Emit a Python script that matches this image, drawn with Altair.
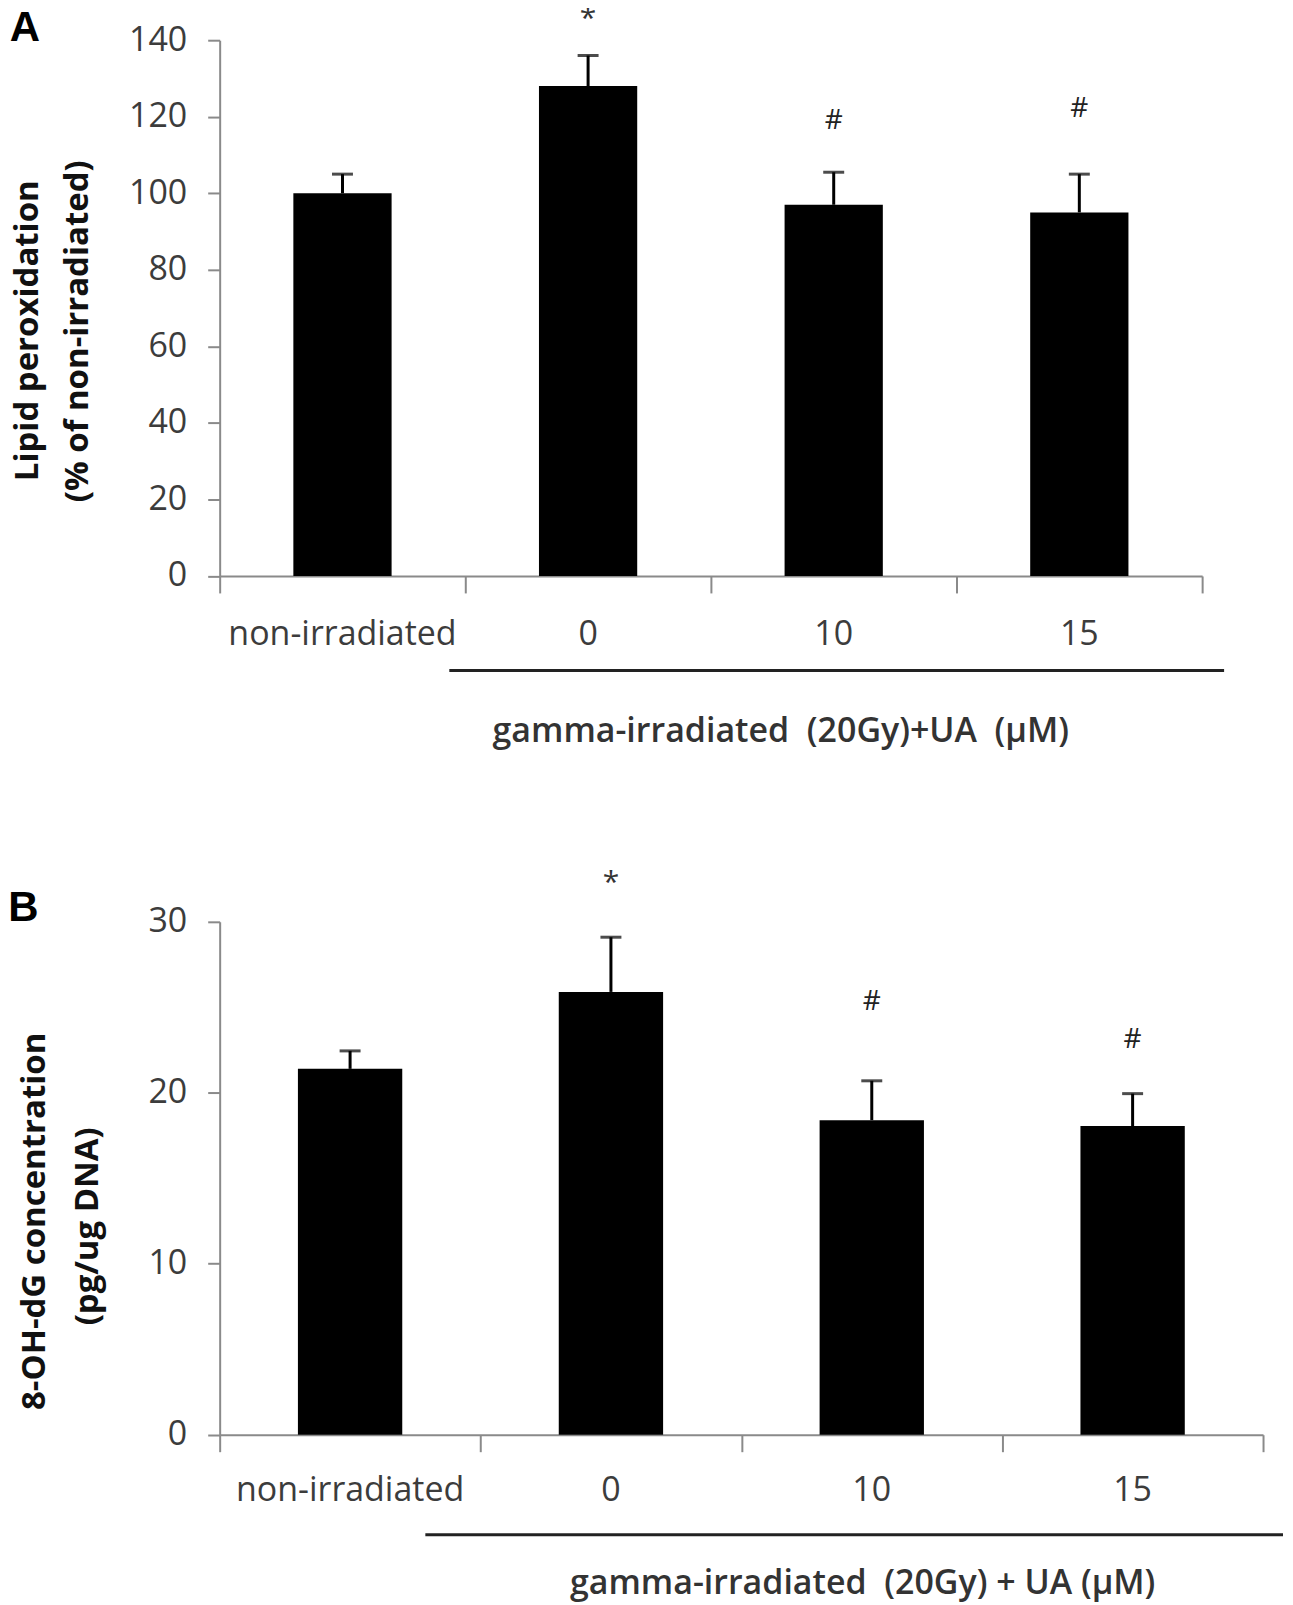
import altair as alt
import pandas as pd

# ---------------- data ----------------
categories = ["non-irradiated", "0", "10", "15"]

lipid_values = [100, 128, 97, 95]
lipid_errors = [5, 8, 8.5, 10]
lipid_sig = ["", "*", "#", "#"]
lipid_sig_y = [None, 147, 119, 122]

ohdg_values = [21.4, 25.9, 18.4, 18.05]
ohdg_errors = [1.05, 3.2, 2.3, 1.9]
ohdg_sig = ["", "*", "#", "#"]
ohdg_sig_y = [None, 32.6, 25.3, 23.1]

# ---------------- styling ----------------
FONT = "Open Sans"
AXIS_GRAY = "#8a8a8a"
TEXT_GRAY = "#3c3c3c"
NB = "\u00a0"


def panel(values, errors, sig, sig_y, ymax, ystep, W, H, letter, letter_xy,
          ytitles, label_y, gline, gtitle, gtitle_xy):
    n = len(categories)
    df = pd.DataFrame({
        "cat": categories,
        "pos": [i + 0.5 for i in range(n)],
        "left": [i + 0.3 for i in range(n)],
        "right": [i + 0.7 for i in range(n)],
        "val": values,
        "hi": [v + e for v, e in zip(values, errors)],
        "sig": sig,
        "sig_y": sig_y,
    })
    xs = alt.Scale(domain=[0, n], nice=False, zero=False)
    ys = alt.Scale(domain=[0, ymax], nice=False)
    xaxis = alt.Axis(values=list(range(n + 1)), labels=False, tickSize=17,
                     tickWidth=2, tickColor=AXIS_GRAY, domainColor=AXIS_GRAY,
                     domainWidth=2, grid=False, title=None)
    yaxis = alt.Axis(values=list(range(0, ymax + 1, ystep)), tickSize=12,
                     tickWidth=2, tickColor=AXIS_GRAY, domainColor=AXIS_GRAY,
                     domainWidth=2, labelFont=FONT, labelFontSize=34,
                     labelColor=TEXT_GRAY, labelPadding=21, grid=False,
                     title=None)

    def X(f):
        return alt.X(f, scale=xs, axis=xaxis)

    def Y(f):
        return alt.Y(f, scale=ys, axis=yaxis)

    base = alt.Chart(df)
    bars = base.mark_rect(color="black").encode(
        x=X("left:Q"), x2="right:Q", y=Y("val:Q"), y2=alt.datum(0))
    err = base.mark_rule(color="black", strokeWidth=3).encode(
        x=X("pos:Q"), y=Y("val:Q"), y2="hi:Q")
    caps = base.mark_tick(color="black", orient="horizontal", size=21,
                          thickness=3).encode(x=X("pos:Q"), y=Y("hi:Q"))
    stars = base.transform_filter("datum.sig == '*'").mark_text(
        font=FONT, fontSize=30, color="#333333", baseline="middle",
        dy=6).encode(x=X("pos:Q"), y=Y("sig_y:Q"), text="sig:N")
    hashes = base.transform_filter("datum.sig == '#'").mark_text(
        font=FONT, fontSize=28, color="#222222", baseline="middle").encode(
        x=X("pos:Q"), y=Y("sig_y:Q"), text="sig:N")
    labels = base.mark_text(font=FONT, fontSize=34, color=TEXT_GRAY,
                            baseline="middle").encode(
        x=X("pos:Q"), y=alt.value(label_y), text="cat:N")

    one = alt.Chart(pd.DataFrame({"k": [0]}))
    layers = [bars, err, caps, stars, hashes, labels]
    layers.append(one.mark_text(text=letter, font="Liberation Sans",
                                fontWeight="bold", fontSize=42, color="black",
                                baseline="middle").encode(
        x=alt.value(letter_xy[0]), y=alt.value(letter_xy[1])))
    for txt, tx, ty in ytitles:
        layers.append(one.mark_text(text=txt, font=FONT, fontWeight="bold",
                                    fontSize=33, color="#111111", angle=270,
                                    baseline="middle", align="center").encode(
            x=alt.value(tx), y=alt.value(ty)))
    layers.append(one.mark_rule(color="#222222", strokeWidth=3).encode(
        x=alt.value(gline[0]), x2=alt.value(gline[1]), y=alt.value(gline[2])))
    layers.append(one.mark_text(text=gtitle, font=FONT, fontWeight=600,
                                fontSize=34, color="#333333",
                                baseline="middle").encode(
        x=alt.value(gtitle_xy[0]), y=alt.value(gtitle_xy[1])))
    return alt.layer(*layers).properties(width=W, height=H)


pA = panel(lipid_values, lipid_errors, lipid_sig, lipid_sig_y, 140, 20,
           984, 536.6, "A", (-195, -11.7),
           [("Lipid peroxidation", -191.5, 291),
            ("(% of non-irradiated)", -141.5, 291.5)],
           596, (230, 1006, 631.3),
           "gamma-irradiated" + NB + NB + "(20Gy)+UA" + NB + NB + "(\u00b5M)",
           (562, 693.3))

pB = panel(ohdg_values, ohdg_errors, ohdg_sig, ohdg_sig_y, 30, 10,
           1045, 513.7, "B", (-196.5, -14),
           [("8-OH-dG concentration", -185, 300),
            ("(pg/ug DNA)", -132, 305)],
           570, (206, 1065, 614),
           "gamma-irradiated" + NB + NB + "(20Gy) + UA (\u00b5M)", (644, 663))

chart = alt.vconcat(pA, pB, spacing=118).configure_view(stroke=None).properties(
    padding={"left": 0, "top": -5, "right": 0, "bottom": 0})

chart.save("out.html", embed_options={"renderer": "svg", "actions": False})
